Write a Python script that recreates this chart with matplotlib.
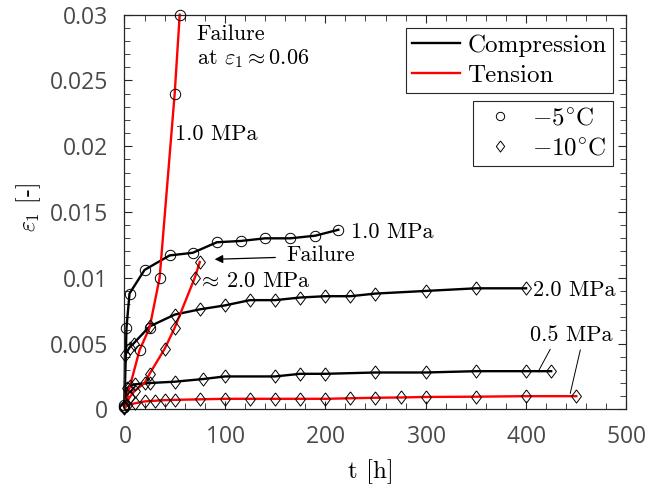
import matplotlib
matplotlib.use("Agg")
import matplotlib.pyplot as plt
from matplotlib.lines import Line2D
from matplotlib.ticker import MultipleLocator

plt.rcParams['mathtext.fontset'] = 'cm'
plt.rcParams['axes.formatter.use_mathtext'] = True

# compression, -5 C, 1.0 MPa (circles)
t_c5 = [0, 2, 5, 20, 45, 68, 92, 116, 140, 165, 190, 213]
e_c5 = [0.0003, 0.0062, 0.0088, 0.0106, 0.0117, 0.0119, 0.0127, 0.0128, 0.0130, 0.0130, 0.0132, 0.01365]

# tension, -5 C, 1.0 MPa (circles)
t_t5 = [0, 15, 25, 35, 50, 55]
e_t5 = [0.0002, 0.0045, 0.0062, 0.0100, 0.0240, 0.0300]

# compression, -10 C, 2.0 MPa (diamonds)
t_c10_2 = [0, 0.5, 5, 9, 25, 50, 75, 100, 125, 150, 175, 200, 225, 250, 300, 350, 400]
e_c10_2 = [0.0002, 0.0041, 0.0047, 0.0050, 0.0063, 0.0072, 0.0076, 0.0079, 0.0083, 0.0083,
           0.0085, 0.0086, 0.0086, 0.0088, 0.0090, 0.0092, 0.0092]

# tension, -10 C, ~2.0 MPa (diamonds), failed
t_t10_2 = [0, 5, 10, 20, 25, 40, 50, 70, 75]
e_t10_2 = [0.0002, 0.0009, 0.0014, 0.0020, 0.0027, 0.0046, 0.0062, 0.0100, 0.0112]

# compression, -10 C, 0.5 MPa (diamonds)
t_c10_05 = [0, 3, 5, 10, 25, 50, 78, 100, 150, 175, 200, 250, 300, 350, 400, 425]
e_c10_05 = [0.0002, 0.0016, 0.0018, 0.0019, 0.0020, 0.0021, 0.0023, 0.0025, 0.0025, 0.0027,
            0.0027, 0.0028, 0.0028, 0.0029, 0.0029, 0.0029]

# tension, -10 C, 0.5 MPa (diamonds)
t_t10_05 = [0, 3, 10, 20, 30, 40, 50, 75, 100, 125, 150, 175, 200, 225, 250, 275, 300, 350, 400, 450]
e_t10_05 = [0.0001, 0.0003, 0.00045, 0.0006, 0.00065, 0.0007, 0.00072, 0.00076, 0.0008, 0.0008,
            0.0008, 0.0008, 0.0008, 0.00084, 0.00088, 0.0009, 0.00094, 0.00096, 0.001, 0.001]

diamond = [(0, 1), (0.75, 0), (0, -1), (-0.75, 0), (0, 1)]
serif = 'cmr10'

fig = plt.figure(figsize=(6.46, 4.87), dpi=100)
ax = fig.add_axes([0.1927, 0.1595, 0.7771, 0.8103])


def series(t, e, color, marker, ms):
    ax.plot(t, e, color=color, lw=1.7, zorder=2, clip_on=False)
    ax.plot(t, e, ls='none', marker=marker, ms=ms, mfc='none', mec='k', mew=0.7,
            zorder=3, clip_on=False)


series(t_c5, e_c5, 'k', 'o', 7.5)
series(t_c10_2, e_c10_2, 'k', diamond, 9.5)
series(t_c10_05, e_c10_05, 'k', diamond, 9.5)
series(t_t5, e_t5, 'r', 'o', 7.5)
series(t_t10_2, e_t10_2, 'r', diamond, 9.5)
series(t_t10_05, e_t10_05, 'r', diamond, 9.5)

ax.set_xlim(0, 500)
ax.set_ylim(0, 0.03)
ax.xaxis.set_major_locator(MultipleLocator(100))
ax.xaxis.set_minor_locator(MultipleLocator(20))
ax.yaxis.set_major_locator(MultipleLocator(0.005))
ax.yaxis.set_minor_locator(MultipleLocator(0.001))
ax.yaxis.set_major_formatter(plt.FuncFormatter(lambda v, p: ('%g' % v)))
ax.tick_params(which='both', direction='in', top=True, right=True, color='#262626',
               labelsize=16.5, labelcolor='#4a4a4a')
ax.tick_params(which='major', length=6, width=0.8)
ax.tick_params(which='minor', length=4, width=0.6)
ax.tick_params(axis='x', which='major', pad=11)
ax.tick_params(axis='y', which='major', pad=12)
for lab in ax.get_xticklabels() + ax.get_yticklabels():
    lab.set_fontfamily('Open Sans')
for s in ax.spines.values():
    s.set_color('#262626')
    s.set_linewidth(0.9)

ax.set_xlabel('t [h]', fontfamily=serif, fontsize=18)
ax.set_ylabel(r'$\varepsilon_1$ [-]', fontfamily=serif, fontsize=17)
ax.xaxis.set_label_coords(0.49, -0.158)
ax.xaxis.label.set_va('center')
ax.yaxis.set_label_coords(-0.19, 0.51)
ax.yaxis.label.set_va('center')

# annotations
fs = 16
ax.text(72, 0.0285, 'Failure', fontfamily=serif, fontsize=fs, va='center')
ax.text(72, 0.0267, r'at $\varepsilon_1 \approx 0.06$', fontfamily=serif, fontsize=fs, va='center')
ax.text(50, 0.0209, '1.0 MPa', fontfamily=serif, fontsize=fs, va='center')
ax.text(226, 0.0135, '1.0 MPa', fontfamily=serif, fontsize=fs, va='center')
ax.text(161, 0.0117, 'Failure', fontfamily=serif, fontsize=fs, va='center')
ax.annotate('', xy=(87, 0.01140), xytext=(153, 0.01155),
            arrowprops=dict(arrowstyle='-|>', color='k', lw=0.9, mutation_scale=12))
ax.text(73, 0.00975, r'$\approx\,$2.0 MPa', fontfamily=serif, fontsize=fs, va='center')
ax.text(407, 0.00907, '2.0 MPa', fontfamily=serif, fontsize=fs, va='center')
ax.text(404, 0.00565, '0.5 MPa', fontfamily=serif, fontsize=fs, va='center')
ax.plot([424, 412], [0.00456, 0.00286], color='k', lw=0.7)
ax.plot([454, 444], [0.00451, 0.00122], color='k', lw=0.7)

# legends
h1 = [Line2D([], [], color='k', lw=1.7), Line2D([], [], color='r', lw=1.7)]
leg1 = ax.legend(h1, ['Compression', 'Tension'], loc='upper right',
                 bbox_to_anchor=(0.973, 0.966), prop={'family': serif, 'size': 18},
                 fancybox=False, edgecolor='#262626', framealpha=1, borderaxespad=0,
                 handlelength=1.9, handletextpad=0.3, borderpad=0.25, labelspacing=0.3)
leg1.get_frame().set_linewidth(0.8)
ax.add_artist(leg1)
h2 = [Line2D([], [], ls='none', marker='o', ms=6, mfc='none', mec='k', mew=0.7),
      Line2D([], [], ls='none', marker=diamond, ms=8, mfc='none', mec='k', mew=0.7)]
leg2 = ax.legend(h2, [r'$-5^{\circ}$C', r'$-10^{\circ}$C'], loc='upper right',
                 bbox_to_anchor=(0.973, 0.781), prop={'family': serif, 'size': 18},
                 fancybox=False, edgecolor='#262626', framealpha=1, borderaxespad=0,
                 handlelength=1.6, handletextpad=0.5, borderpad=0.25, labelspacing=0.3)
leg2.get_frame().set_linewidth(0.8)

fig.savefig('out.png', dpi=100)
